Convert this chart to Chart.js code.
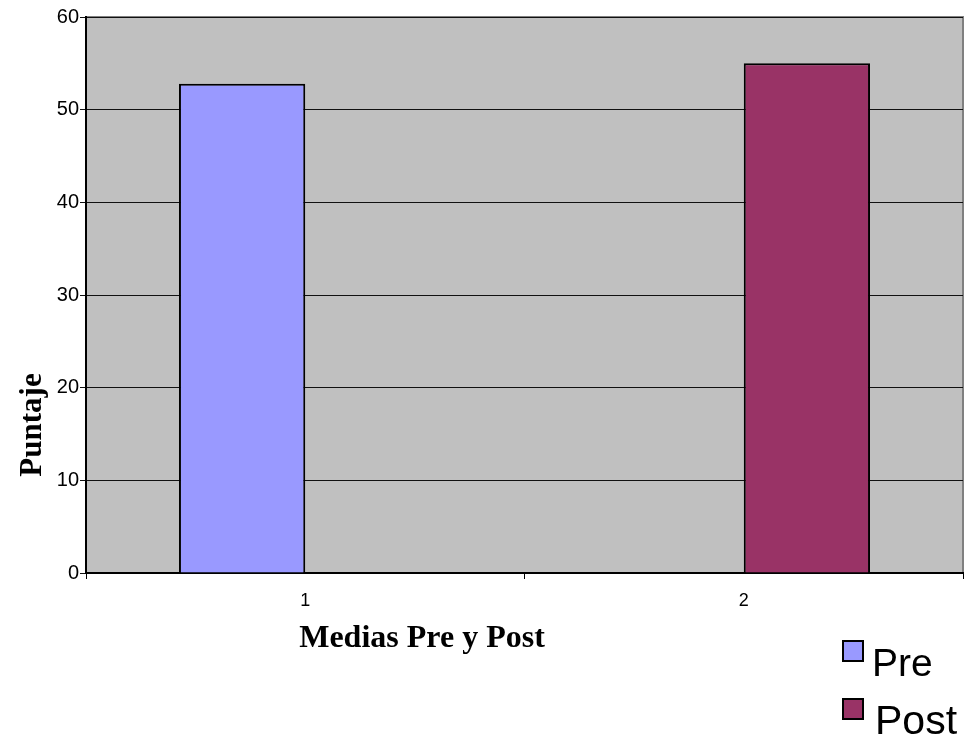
<!DOCTYPE html>
<html>
<head>
<meta charset="utf-8">
<script src="https://cdn.jsdelivr.net/npm/chart.js@4.4.1/dist/chart.umd.min.js"></script>
<style>
  html, body { margin: 0; padding: 0; background: #fff; }
  #wrap { width: 974px; height: 752px; }
</style>
</head>
<body>
<div id="wrap"><canvas id="chart" width="974" height="752"></canvas></div>
<script>
// data
var categories = ['1', '2'];
var preValues  = [52.8, null];
var postValues = [null, 55.0];
var yTicks = [0, 10, 20, 30, 40, 50, 60];

var seriesNames  = ['Pre', 'Post'];
var seriesColors = ['#9999FF', '#993366'];

var xTitle = 'Medias Pre y Post';
var yTitle = 'Puntaje';

// grey plot area with its frame
var plotBg = {
  id: 'plotBg',
  beforeDraw: function(chart) {
    var a = chart.chartArea, ctx = chart.ctx;
    ctx.save();
    ctx.fillStyle = '#C0C0C0';
    ctx.fillRect(a.left, a.top, a.right - a.left, a.bottom - a.top);
    ctx.strokeStyle = '#808080';
    ctx.lineWidth = 2;
    ctx.beginPath();
    ctx.moveTo(a.left, a.top);
    ctx.lineTo(a.right, a.top);
    ctx.lineTo(a.right, a.bottom);
    ctx.stroke();
    ctx.restore();
  }
};

// axis titles and the legend, placed like the original sheet
var extras = {
  id: 'extras',
  afterDraw: function(chart) {
    var ctx = chart.ctx;
    ctx.save();
    ctx.fillStyle = '#000';
    ctx.font = 'bold 32px "Liberation Serif", "Times New Roman", serif';
    ctx.textAlign = 'center';
    ctx.textBaseline = 'alphabetic';
    ctx.fillText(xTitle, 422, 647);

    ctx.font = 'bold 31px "Liberation Serif", "Times New Roman", serif';
    ctx.translate(41, 425);
    ctx.rotate(-Math.PI / 2);
    ctx.fillText(yTitle, 0, 0);
    ctx.restore();

    // legend
    ctx.save();
    ctx.textAlign = 'left';
    ctx.textBaseline = 'alphabetic';
    var rows = [{ box: 641, base: 676, tx: 872, size: 39 }, { box: 699, base: 734, tx: 875, size: 41 }];
    chart.data.datasets.forEach(function(ds, i) {
      var r = rows[i];
      ctx.fillStyle = ds.backgroundColor;
      ctx.fillRect(843, r.box, 20, 20);
      ctx.strokeStyle = '#000';
      ctx.lineWidth = 2;
      ctx.strokeRect(843, r.box, 20, 20);
      ctx.fillStyle = '#000';
      ctx.font = r.size + 'px "Liberation Sans", Arial, sans-serif';
      ctx.fillText(ds.label, r.tx, r.base);
    });
    ctx.restore();
  }
};

var ctx = document.getElementById('chart').getContext('2d');
var chart = new Chart(ctx, {
  type: 'bar',
  data: {
    labels: categories,
    datasets: [{
      label: seriesNames[0],
      data: preValues,
      backgroundColor: seriesColors[0],
      borderColor: '#000',
      borderWidth: 2,
      categoryPercentage: 0.576,
      barPercentage: 1
    }, {
      label: seriesNames[1],
      data: postValues,
      backgroundColor: seriesColors[1],
      borderColor: '#000',
      borderWidth: 2,
      categoryPercentage: 0.576,
      barPercentage: 1
    }]
  },
  options: {
    responsive: false,
    animation: false,
    layout: { padding: { top: 17, right: 11, left: 0, bottom: 0 } },
    plugins: {
      legend: { display: false },
      tooltip: { enabled: false }
    },
    scales: {
      x: {
        offset: true,
        grid: {
          offset: true,
          drawOnChartArea: false,
          drawTicks: true,
          tickLength: 6,
          color: '#000'
        },
        border: { color: '#000', width: 2 },
        ticks: {
          color: '#000',
          padding: 11,
          font: { family: '"Liberation Sans", Arial, sans-serif', size: 18 }
        },
        afterFit: function(scale) { scale.height = 752 - 573; }
      },
      y: {
        min: 0,
        max: 60,
        afterBuildTicks: function(scale) {
          scale.ticks = yTicks.map(function(v) { return { value: v }; });
        },
        grid: {
          color: '#111',
          lineWidth: 1,
          tickLength: 6,
          drawTicks: true
        },
        border: { color: '#000', width: 2 },
        ticks: {
          color: '#000',
          padding: 1,
          font: { family: '"Liberation Sans", Arial, sans-serif', size: 20 }
        },
        afterFit: function(scale) { scale.width = 86; }
      }
    }
  },
  plugins: [plotBg, extras]
});
</script>
</body>
</html>
